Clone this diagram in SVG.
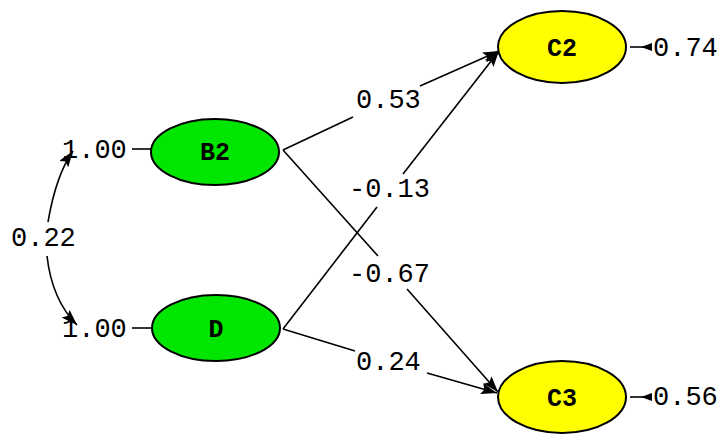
<svg xmlns="http://www.w3.org/2000/svg" width="718" height="435" viewBox="0 0 718 435">
<defs>
<marker id="ah" viewBox="0 0 16 11" refX="16" refY="5.5" markerWidth="16" markerHeight="11" markerUnits="userSpaceOnUse" orient="auto">
<path d="M0,0 L16,5.5 L0,11 L3,5.5 Z" fill="#000"/>
</marker>
</defs>
<style>
.node{stroke:#000;stroke-width:2}
.lat{fill:#00e600}
.obs{fill:#ffff00}
.nl{font-family:"Liberation Mono","Courier New",monospace;font-weight:bold;font-size:25px;text-anchor:middle;fill:#000}
.num{font-family:"Liberation Mono","Courier New",monospace;font-size:27px;fill:#000}
.edge{stroke:#000;stroke-width:1.6;fill:none}
</style>
<rect width="718" height="435" fill="#fff"/>
<g id="connectors">
<path class="edge" d="M283,150 L353,117"/>
<path class="edge" d="M420,86 L499,51" marker-end="url(#ah)"/>
<path class="edge" d="M283,150 L378,256"/>
<path class="edge" d="M407,289 L498,392" marker-end="url(#ah)"/>
<path class="edge" d="M283,329 L377,207"/>
<path class="edge" d="M403,174 L499,51" marker-end="url(#ah)"/>
<path class="edge" d="M283,329 L355,351"/>
<path class="edge" d="M427,373 L497,393" marker-end="url(#ah)"/>
<path class="edge" d="M48,222 Q56,175 73,151" marker-end="url(#ah)"/>
<path class="edge" d="M47,256 Q52,300 77,325" marker-end="url(#ah)"/>
<path class="edge" d="M132,149 L151,149"/>
<path class="edge" d="M132,328 L152,328" stroke="#555"/>
<path class="edge" d="M630,47 L650,47"/>
<path d="M641,47 L652,43 L652,51 Z" fill="#000"/>
<path class="edge" d="M630,397 L650,397"/>
<path d="M641,397 L652,393 L652,401 Z" fill="#000"/>
</g>
<g id="B2"><ellipse class="node lat" cx="215" cy="152" rx="64" ry="33"/><text class="nl" x="215" y="160">B2</text></g>
<g id="D"><ellipse class="node lat" cx="216" cy="328" rx="64" ry="33"/><text class="nl" x="216" y="337">D</text></g>
<g id="C2"><ellipse class="node obs" cx="562" cy="47" rx="64" ry="36"/><text class="nl" x="562" y="56">C2</text></g>
<g id="C3"><ellipse class="node obs" cx="562" cy="397" rx="64" ry="36"/><text class="nl" x="562" y="406">C3</text></g>
<g id="labels">
<text class="num" x="62" y="158">1.00</text>
<text class="num" x="62" y="337">1.00</text>
<text class="num" x="11" y="246">0.22</text>
<text class="num" x="356" y="108">0.53</text>
<text class="num" x="349" y="197">-0.13</text>
<text class="num" x="349" y="282">-0.67</text>
<text class="num" x="356" y="370">0.24</text>
<text class="num" x="653" y="56">0.74</text>
<text class="num" x="653" y="405">0.56</text>
</g>
</svg>
